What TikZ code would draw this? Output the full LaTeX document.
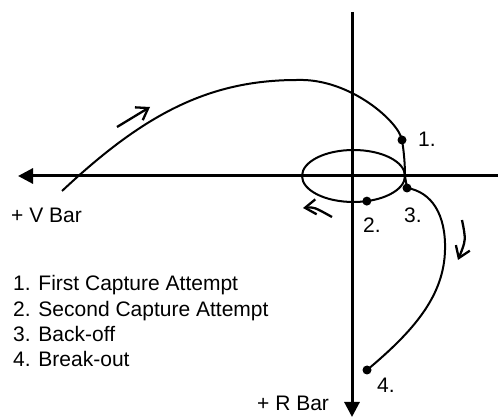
\documentclass[tikz,border=0pt]{standalone}
\usepackage{fontspec}
\setmainfont{Liberation Sans}
\usetikzlibrary{arrows.meta,shapes.geometric}

\begin{document}
\begin{tikzpicture}[
  x=1pt,
  y=-1pt,
  font=\fontsize{21}{25}\selectfont,
  axis/.style={line width=3pt, -{Triangle[length=15pt,width=15pt]}},
  track/.style={line width=2pt},
  dir/.style={line width=2.3pt, -{Straight Barb[length=11pt,width=15pt]}},
  dot/.style={circle, fill, inner sep=0pt, minimum size=9pt},
  lab/.style={anchor=base west, inner sep=0pt}
]
  \useasboundingbox (0,0) rectangle (498,419);

  % axes
  \coordinate (ytop) at (352,12);
  \coordinate (ybot) at (352,417);
  \coordinate (xright) at (498,176);
  \coordinate (xleft) at (18,176);
  \draw[axis] (ytop) -- (ybot);
  \draw[axis] (xright) -- (xleft);

  % loop round the target
  \node[track, draw, ellipse, inner sep=0pt, outer sep=0pt,
        minimum width=103pt, minimum height=52pt] (loop) at (353.5,176) {};

  % marked points
  \node[dot] (d1) at (402,140) {};
  \node[dot] (d2) at (loop.-62) {};
  \node[dot] (d3) at (407,188) {};
  \node[dot] (d4) at (367,370) {};

  % approach
  \coordinate (vstart) at (62,191);
  \coordinate (apex) at (297,80);
  \draw[track] (vstart) .. controls (142,116) and (207,80) .. (apex)
    .. controls (350,78) and (399,122) .. (d1.center)
    .. controls (404,152) and (405,165) .. (loop.east);

  % back-off and break-out
  \coordinate (bend) at (445,250);
  \draw[track] (loop.east) .. controls (406,182) .. (d3.center)
    .. controls (432,192) and (446,215) .. (bend)
    .. controls (444,295) and (415,330) .. (d4.center);

  % direction of motion
  \coordinate (a1) at (117,127);
  \coordinate (a2) at (150,107);
  \coordinate (b1) at (332,217);
  \coordinate (b2) at (303,208);
  \coordinate (c1) at (462,220);
  \coordinate (c2) at (458,260);
  \draw[dir] (a1) -- (a2);
  \draw[dir] (b1) .. controls (314,207) .. (b2);
  \draw[dir] (c1) .. controls (466,240) .. (c2);

  % labels
  \node[lab] (l1) at (418,147) {1.};
  \node[lab] (l2) at (363,233) {2.};
  \node[lab] (l3) at (404,223) {3.};
  \node[lab] (l4) at (377,393) {4.};
  \node[lab] (vbar) at (11,223) {+ V Bar};
  \node[lab] (rbar) at (257,410) {+ R Bar};

  % key
  \node[lab] (k1) at (13,291) {1. First Capture Attempt};
  \node[lab] (k2) at (13,317) {2. Second Capture Attempt};
  \node[lab] (k3) at (13,342) {3. Back-off};
  \node[lab] (k4) at (13,367) {4. Break-out};
\end{tikzpicture}
\end{document}
